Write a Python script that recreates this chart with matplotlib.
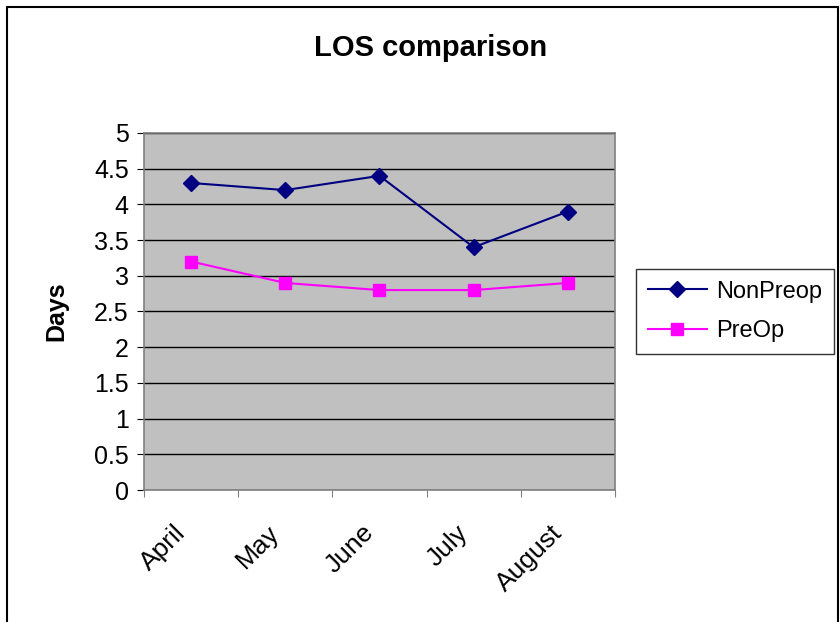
import numpy as np
import matplotlib.pyplot as plt
import matplotlib.transforms as mtransforms
from matplotlib.patches import Rectangle

months = ["April", "May", "June", "July", "August"]
nonpreop = [4.3, 4.2, 4.4, 3.4, 3.9]
preop = [3.2, 2.9, 2.8, 2.8, 2.9]

plt.rcParams['font.family'] = ['Liberation Sans', 'DejaVu Sans']

fig = plt.figure(figsize=(8.4, 6.22), dpi=100)
ax = fig.add_axes([0.1714, 0.2122, 0.5607, 0.574])
ax.set_facecolor("#C0C0C0")

x = np.arange(len(months))
ax.plot(x, nonpreop, color="#000080", marker="D", markersize=8, lw=1.5, label="NonPreop")
ax.plot(x, preop, color="#FF00FF", marker="s", markersize=8, lw=1.5, label="PreOp")

ax.set_xlim(-0.5, len(months) - 0.5)
ax.set_ylim(0, 5)
ax.set_yticks(np.arange(0, 5.01, 0.5))
ax.set_yticklabels(["0", "0.5", "1", "1.5", "2", "2.5", "3", "3.5", "4", "4.5", "5"], fontsize=18)
ax.yaxis.grid(True, color="black", lw=1)
ax.set_axisbelow(True)

# category boundaries as ticks, labels centred between them
ax.set_xticks(np.arange(-0.5, len(months), 1.0))
ax.set_xticklabels([])
ax.set_xticks(x, minor=True)
ax.set_xticklabels(months, minor=True, rotation=45, ha="right", rotation_mode="anchor", fontsize=19)
ax.tick_params(axis="x", which="minor", length=0, pad=22)
ax.tick_params(axis="x", which="major", length=5, color="#808080", direction="out")
ax.tick_params(axis="y", length=5, color="black", pad=6)
shift = mtransforms.ScaledTranslation(-18 / 100, 0, fig.dpi_scale_trans)
for lab in ax.get_xticklabels(minor=True):
    lab.set_transform(lab.get_transform() + shift)

for s in ax.spines.values():
    s.set_color("#808080")
    s.set_linewidth(1.2)

ax.set_ylabel("Days", fontsize=18, fontweight="bold")
ax.yaxis.set_label_coords(-0.16, 0.5)
fig.text(0.512, 0.923, "LOS comparison", fontsize=21, fontweight="bold", ha="center", va="center")

leg = ax.legend(loc="center left", bbox_to_anchor=(1.045, 0.5), fontsize=17, frameon=True,
                fancybox=False, edgecolor="black", handlelength=2.5, borderpad=0.5,
                labelspacing=0.75, handletextpad=0.4, borderaxespad=0)
leg.get_frame().set_linewidth(1.0)

# outer chart border
fig.patches.append(Rectangle((7 / 840, -0.01), 831 / 840, 1 - 7 / 622 + 0.01,
                             transform=fig.transFigure, fill=False, edgecolor="black", lw=1.5))

fig.savefig("out.png", dpi=100)
